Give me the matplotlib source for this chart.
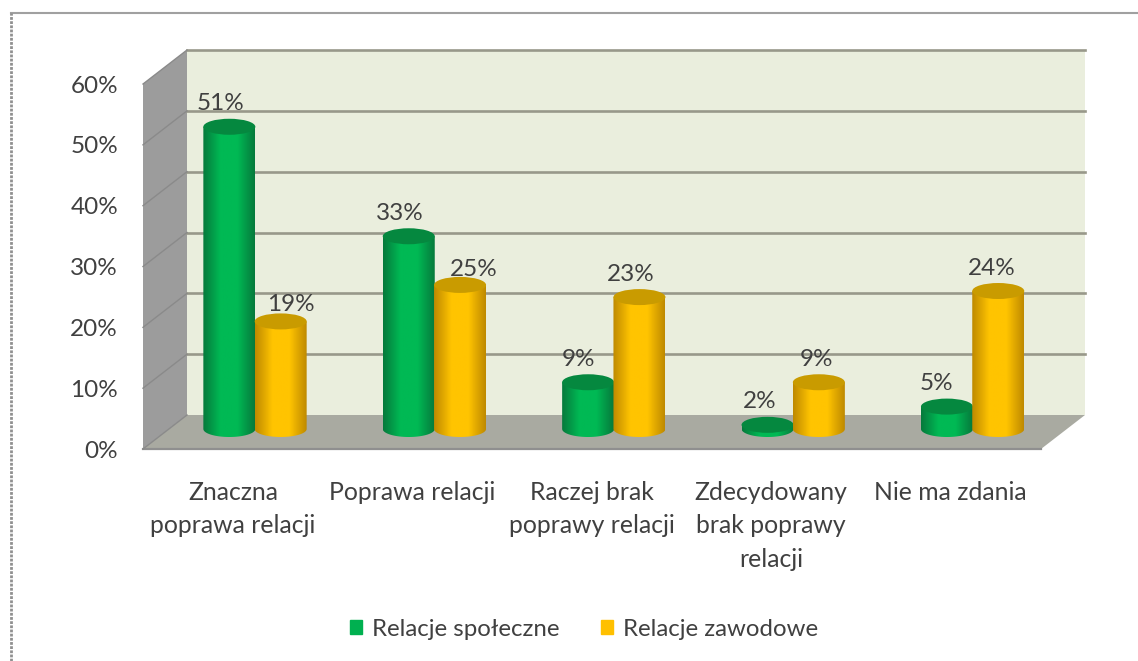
import numpy as np
import matplotlib
matplotlib.use('Agg')
import matplotlib.pyplot as plt
from matplotlib.colors import LinearSegmentedColormap
from matplotlib.patches import Polygon, Ellipse, Patch

# chart data
categories = ['Znaczna\npoprawa relacji', 'Poprawa relacji', 'Raczej brak\npoprawy relacji',
              'Zdecydowany\nbrak poprawy\nrelacji', 'Nie ma zdania']
spoleczne = [51, 33, 9, 2, 5]
zawodowe = [19, 25, 23, 9, 24]
y_ticks = [0, 10, 20, 30, 40, 50, 60]
series_names = ['Relacje społeczne', 'Relacje zawodowe']

# nudges for the value labels, in pixels
dx_spol = [-9, -9, -10, -8, -10]
dx_zaw = [10, 14, -9, -2, -7]
dy_zaw = [17, 15, 23, 23, 23]

W, H = 1138, 661
X_PX = 179.4   # pixels per category
Y_PX = 6.083   # pixels per percent
DX = 44 / X_PX   # depth of the 3d box
DY = 34 / Y_PX
HALF_W = 26 / X_PX
ELL_H = 8 / Y_PX
BASE = -14 / Y_PX
ZERO = -22 / Y_PX

plt.rcParams['font.family'] = ['Lato', 'DejaVu Sans']
TXT = '#404040'

fig = plt.figure(figsize=(W / 100, H / 100), dpi=100)
ax = fig.add_axes([0, 0, 1, 1])
xlim = (-255 / X_PX, (W - 255) / X_PX)
ylim = ((415 - H) / Y_PX, 415 / Y_PX)
ax.axis('off')

x_left, x_right = (187 - 255) / X_PX, (1085 - 255) / X_PX

# picture frame
ax.plot([(11 - 255) / X_PX, xlim[1]], [(415 - 13) / Y_PX] * 2, color='#a0a0a0', lw=1.5)
ax.plot([(11 - 255) / X_PX] * 2, [ylim[0], (415 - 13) / Y_PX], color='#909090', lw=2, ls=(0, (1, 0.5)))

# walls and floor
ax.add_patch(Polygon([(x_left, 0), (x_right, 0), (x_right, 60), (x_left, 60)], fc='#eaeedd', ec='none', zorder=1))
ax.add_patch(Polygon([(x_left - DX, -DY), (x_left, 0), (x_left, 60), (x_left - DX, 60 - DY)], fc='#9c9c9c', ec='none', zorder=1))
ax.add_patch(Polygon([(x_left - DX, -DY), (x_left, 0), (x_right, 0), (x_right - DX, -DY)], fc='#a9aaa1', ec='none', zorder=1))
ax.plot([x_left - DX, x_right - DX], [-DY, -DY], color='#8f8f8f', lw=1.6, zorder=2)
for t in y_ticks:
    if t > 0:
        ax.plot([x_left, x_right], [t, t], color='#98988a', lw=1.9, zorder=2)
    ax.plot([x_left - DX, x_left], [t - DY, t], color='#8a8a8a', lw=1, zorder=2)
    ax.text(x_left - DX - 25 / X_PX, t - DY - 2 / Y_PX, f'{t}%', ha='right', va='center',
            fontsize=17.5, color=TXT, zorder=6)


def cylinder(xc, value, dark_end, mid, cap, z):
    top = value + ZERO
    ang = np.linspace(0, np.pi, 40)
    low_x = xc - HALF_W * np.cos(ang)
    low_y = BASE - ELL_H * np.sin(ang)
    up_x = xc + HALF_W * np.cos(ang)
    up_y = top + 0 * ang
    body = Polygon(np.r_[np.c_[low_x, low_y], np.c_[up_x, up_y]], transform=ax.transData, fc='none', ec='none', zorder=z)
    ax.add_patch(body)
    cmap = LinearSegmentedColormap.from_list('c', [dark_end, mid, mid, dark_end])
    im = ax.imshow(np.linspace(0, 1, 64)[None, :], cmap=cmap, aspect='auto', zorder=z,
                   extent=(xc - HALF_W, xc + HALF_W, BASE - ELL_H, top + 1))
    im.set_clip_path(body)
    ax.add_patch(Ellipse((xc, top), 2 * HALF_W, 2 * ELL_H, fc=cap, ec='none', zorder=z + 0.1))


for i in range(len(categories)):
    z = 3 + i * 0.01
    cylinder(i - 0.143, spoleczne[i], '#067a3c', '#00b954', '#05883f', z)
    cylinder(i + 0.143, zawodowe[i], '#bf8a00', '#ffc400', '#c99b00', z + 0.5)
    ax.annotate(f'{spoleczne[i]}%', (i - 0.143, spoleczne[i] + ZERO), xytext=(dx_spol[i], 23),
                textcoords='offset pixels', ha='center', va='center', fontsize=17.5, color=TXT, zorder=6)
    ax.annotate(f'{zawodowe[i]}%', (i + 0.143, zawodowe[i] + ZERO), xytext=(dx_zaw[i], dy_zaw[i]),
                textcoords='offset pixels', ha='center', va='center', fontsize=17.5, color=TXT, zorder=6)
    ax.text(i - 22 / X_PX, (415 - 481) / Y_PX, categories[i], ha='center', va='top',
            fontsize=17.8, color=TXT, linespacing=1.55, zorder=6)

ax.set_xlim(xlim)
ax.set_ylim(ylim)

handles = [Patch(color='#00b050', label=series_names[0]), Patch(color='#ffc000', label=series_names[1])]
fig.legend(handles=handles, loc='center', bbox_to_anchor=(584 / W, 1 - 629 / H), ncol=2, frameon=False,
           fontsize=17.3, labelcolor=TXT, handlelength=0.5, handleheight=0.55, handletextpad=0.42, columnspacing=1.7)

fig.savefig('out.png', dpi=100)
